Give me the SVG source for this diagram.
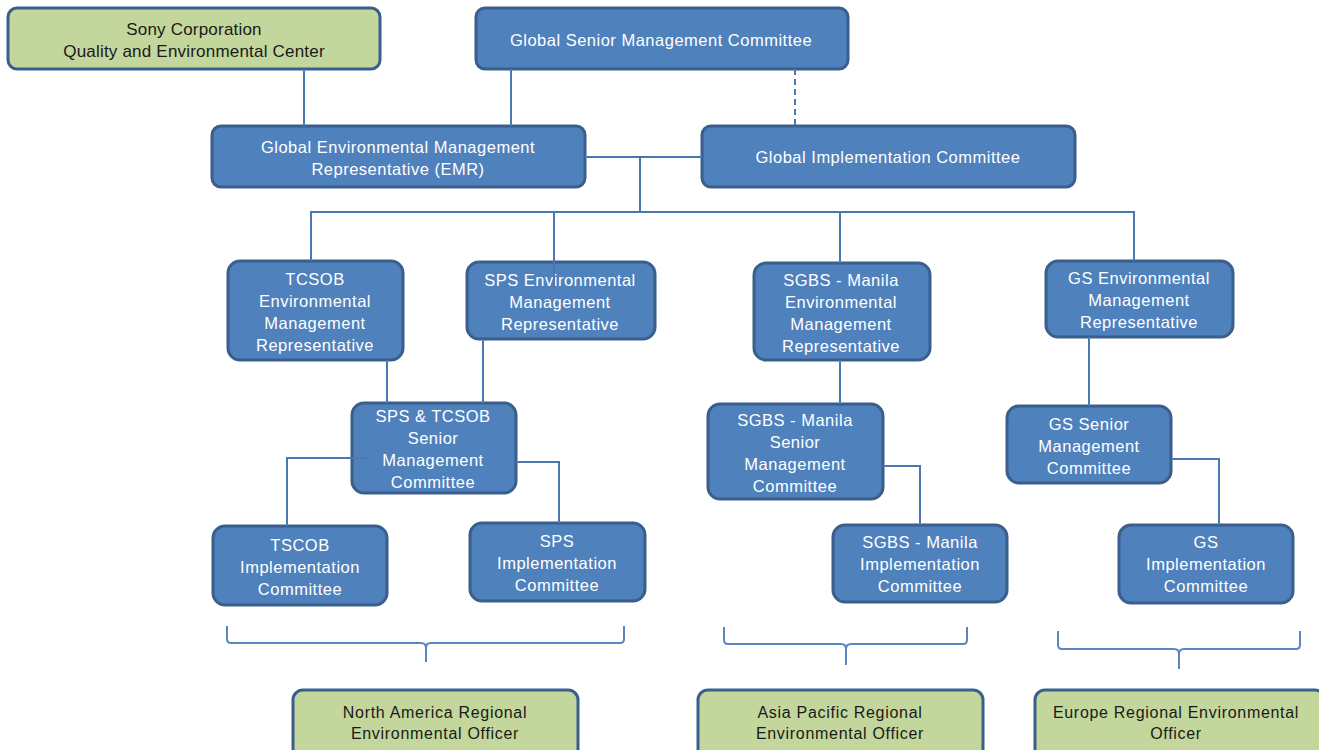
<svg xmlns="http://www.w3.org/2000/svg" width="1319" height="750" viewBox="0 0 1319 750">
<style>
.b{fill:#4f81bd;stroke:#3a5f8c;stroke-width:3}
.g{fill:#c3d69b;stroke:#3a5f8c;stroke-width:3}
.t{font-family:"Liberation Sans",Arial,sans-serif;font-size:16.5px;letter-spacing:0.5px;fill:#fff;text-anchor:middle}
.k{font-family:"Liberation Sans",Arial,sans-serif;font-size:17px;letter-spacing:0.2px;fill:#1a1a1a;text-anchor:middle}
.k2{font-family:"Liberation Sans",Arial,sans-serif;font-size:16px;letter-spacing:0.7px;fill:#1a1a1a;text-anchor:middle}
.c{fill:none;stroke:#4a78b0;stroke-width:2}
.br{fill:none;stroke:#5a86c0;stroke-width:2}
</style>
<rect width="1319" height="750" fill="#fff"/>
<g id="sony"><rect class="g" x="8" y="8" width="372" height="61" rx="9"/><text class="k" x="194" y="35">Sony Corporation</text><text class="k" x="194" y="57">Quality and Environmental Center</text></g>
<g id="gsmc"><rect class="b" x="476" y="8" width="372" height="61" rx="9"/><text class="t" x="661" y="46">Global Senior Management Committee</text></g>
<g id="gemr"><rect class="b" x="212" y="126" width="373" height="61" rx="9"/><text class="t" x="398" y="153">Global Environmental Management</text><text class="t" x="398" y="175">Representative  (EMR)</text></g>
<g id="gic"><rect class="b" x="702" y="126" width="373" height="61" rx="9"/><text class="t" x="888" y="163">Global Implementation Committee</text></g>
<g id="tcsob-emr"><rect class="b" x="228" y="261" width="175" height="99" rx="12"/><text class="t" x="315" y="285">TCSOB</text><text class="t" x="315" y="307">Environmental</text><text class="t" x="315" y="329">Management</text><text class="t" x="315" y="351">Representative</text></g>
<g id="sps-emr"><rect class="b" x="467" y="262" width="188" height="77" rx="12"/><text class="t" x="560" y="286">SPS Environmental</text><text class="t" x="560" y="308">Management</text><text class="t" x="560" y="330">Representative</text></g>
<g id="sps-tcsob-smc"><rect class="b" x="352" y="403" width="164" height="90" rx="12"/><text class="t" x="433" y="422">SPS &amp; TCSOB</text><text class="t" x="433" y="444">Senior</text><text class="t" x="433" y="466">Management</text><text class="t" x="433" y="488">Committee</text></g>
<g id="tscob-ic"><rect class="b" x="213" y="526" width="174" height="79" rx="12"/><text class="t" x="300" y="551">TSCOB</text><text class="t" x="300" y="573">Implementation</text><text class="t" x="300" y="595">Committee</text></g>
<g id="sps-ic"><rect class="b" x="470" y="523" width="175" height="78" rx="12"/><text class="t" x="557" y="547">SPS</text><text class="t" x="557" y="569">Implementation</text><text class="t" x="557" y="591">Committee</text></g>
<g id="sgbs-emr"><rect class="b" x="754" y="263" width="176" height="97" rx="12"/><text class="t" x="841" y="286">SGBS - Manila</text><text class="t" x="841" y="308">Environmental</text><text class="t" x="841" y="330">Management</text><text class="t" x="841" y="352">Representative</text></g>
<g id="sgbs-smc"><rect class="b" x="708" y="404" width="175" height="95" rx="12"/><text class="t" x="795" y="426">SGBS - Manila</text><text class="t" x="795" y="448">Senior</text><text class="t" x="795" y="470">Management</text><text class="t" x="795" y="492">Committee</text></g>
<g id="sgbs-ic"><rect class="b" x="833" y="525" width="174" height="77" rx="12"/><text class="t" x="920" y="548">SGBS - Manila</text><text class="t" x="920" y="570">Implementation</text><text class="t" x="920" y="592">Committee</text></g>
<g id="gs-emr"><rect class="b" x="1046" y="261" width="187" height="76" rx="12"/><text class="t" x="1139" y="284">GS Environmental</text><text class="t" x="1139" y="306">Management</text><text class="t" x="1139" y="328">Representative</text></g>
<g id="gs-smc"><rect class="b" x="1007" y="406" width="164" height="77" rx="12"/><text class="t" x="1089" y="430">GS Senior</text><text class="t" x="1089" y="452">Management</text><text class="t" x="1089" y="474">Committee</text></g>
<g id="gs-ic"><rect class="b" x="1119" y="525" width="174" height="78" rx="12"/><text class="t" x="1206" y="548">GS</text><text class="t" x="1206" y="570">Implementation</text><text class="t" x="1206" y="592">Committee</text></g>
<g id="na-reo"><rect class="g" x="293" y="690" width="285" height="70" rx="10"/><text class="k2" x="435" y="718">North America Regional</text><text class="k2" x="435" y="739">Environmental Officer</text></g>
<g id="ap-reo"><rect class="g" x="698" y="690" width="285" height="70" rx="10"/><text class="k2" x="840" y="718">Asia Pacific Regional</text><text class="k2" x="840" y="739">Environmental Officer</text></g>
<g id="eu-reo"><rect class="g" x="1035" y="690" width="290" height="70" rx="10"/><text class="k2" x="1176" y="718">Europe Regional Environmental</text><text class="k2" x="1176" y="739">Officer</text></g>
<g id="connectors">
<path class="c" d="M304 69V126"/>
<path class="c" d="M511 69V126"/>
<path class="c" d="M795 69V126" stroke-dasharray="6,4"/>
<path class="c" d="M585 157H702M640 157V212"/>
<path class="c" d="M311 261V212H1134V261"/>
<path class="c" d="M554 212V290"/>
<path class="c" d="M840 212V263"/>
<path class="c" d="M387 360V403"/>
<path class="c" d="M483 339V403"/>
<path class="c" d="M368 458H287V526"/>
<path class="c" d="M516 462H559V523"/>
<path class="c" d="M840 360V404"/>
<path class="c" d="M883 466H920V525"/>
<path class="c" d="M1089 337V406"/>
<path class="c" d="M1171 459H1219V525"/>
<path class="br" d="M227 626V639Q227 643 231 643H421Q426 643 426 648V662M426 648Q426 643 431 643H620Q624 643 624 639V626"/>
<path class="br" d="M724 627V640Q724 644 728 644H841Q846 644 846 649V665M846 649Q846 644 851 644H963Q967 644 967 640V627"/>
<path class="br" d="M1058 631V645Q1058 649 1062 649H1174Q1179 649 1179 654V669M1179 654Q1179 649 1184 649H1296Q1300 649 1300 645V631"/>
</g>
</svg>
